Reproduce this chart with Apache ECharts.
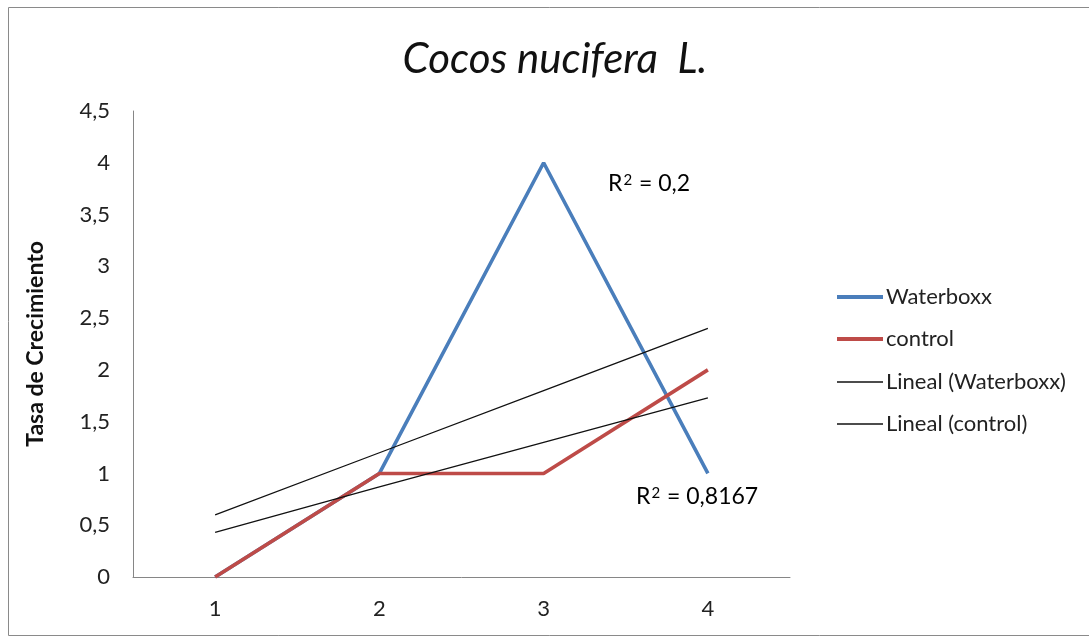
<!DOCTYPE html>
<html>
<head>
<meta charset="utf-8">
<script src="https://cdn.jsdelivr.net/npm/echarts@6/dist/echarts.min.js"></script>
<style>
  html, body { margin: 0; padding: 0; background: #fff; }
  #chart { width: 1089px; height: 637px; }
</style>
</head>
<body>
<div id="chart"></div>
<script>
// Growth rate per measurement for Cocos nucifera L.
const categories = ['1', '2', '3', '4'];
const waterboxx = [0, 1, 4, 1];
const control = [0, 1, 1, 2];
// Linear trend lines (values at each category)
const trendWaterboxx = [0.6, 1.2, 1.8, 2.4];
const trendControl = [0.43, 0.87, 1.3, 1.73];
const r2Waterboxx = '0,2';
const r2Control = '0,8167';
const yTicks = { min: 0, max: 4.5, interval: 0.5 };

const FONT = 'Lato, "Open Sans", sans-serif';
const BLUE = '#4A7EBB';
const RED = '#BE4B48';
const chart = echarts.init(document.getElementById('chart'));

// one legend block per entry so each row sits at its own height
function legendRow(name, top, thick) {
  return {
    orient: 'vertical',
    left: 832,
    top: top,
    icon: 'rect',
    itemWidth: 46,
    itemHeight: thick ? 4 : 1.4,
    textStyle: { fontFamily: FONT, fontSize: 22, color: '#222', padding: [0, 0, 0, -2] },
    data: [name]
  };
}

// "R² = value" label with a raised, smaller 2
function r2Label(x, y, value) {
  return {
    type: 'text', x: x, y: y,
    style: {
      text: '{a|R}{s|2}{a| = ' + value + '}',
      verticalAlign: 'middle',
      rich: {
        a: { fontFamily: FONT, fontSize: 23, color: '#222' },
        s: { fontFamily: FONT, fontSize: 15, color: '#222', verticalAlign: 'top', padding: [0, 1, 8, 1] }
      }
    }
  };
}

chart.setOption({
  backgroundColor: '#fff',
  animation: false,
  legend: [
    legendRow('Waterboxx', 281, true),
    legendRow('control', 323, true),
    legendRow('Lineal (Waterboxx)', 366, false),
    legendRow('Lineal (control)', 408, false)
  ],
  grid: { left: 133, top: 111, width: 657, height: 466 },
  xAxis: {
    type: 'category',
    data: categories,
    boundaryGap: true,
    axisLine: { lineStyle: { color: '#868686', width: 1 } },
    axisTick: { show: false },
    axisLabel: { fontFamily: FONT, fontSize: 22, color: '#222', margin: 21 }
  },
  yAxis: {
    type: 'value',
    min: yTicks.min,
    max: yTicks.max,
    interval: yTicks.interval,
    name: 'Tasa de Crecimiento',
    nameLocation: 'middle',
    nameGap: 86,
    nameTextStyle: { fontFamily: FONT, fontWeight: 'bold', fontSize: 23, color: '#111' },
    axisLine: { show: true, lineStyle: { color: '#868686', width: 1 } },
    axisTick: { show: false },
    splitLine: { show: false },
    axisLabel: {
      fontFamily: FONT, fontSize: 22, color: '#222', margin: 23,
      formatter: v => String(v).replace('.', ',')
    }
  },
  series: [
    {
      name: 'Waterboxx', type: 'line', data: waterboxx, symbol: 'none',
      lineStyle: { color: BLUE, width: 3.6 }, itemStyle: { color: BLUE }, z: 3
    },
    {
      name: 'control', type: 'line', data: control, symbol: 'none',
      lineStyle: { color: RED, width: 3.6 }, itemStyle: { color: RED }, z: 4
    },
    {
      name: 'Lineal (Waterboxx)', type: 'line', data: trendWaterboxx, symbol: 'none',
      lineStyle: { color: '#111', width: 1.3 }, itemStyle: { color: '#111' }, z: 5
    },
    {
      name: 'Lineal (control)', type: 'line', data: trendControl, symbol: 'none',
      lineStyle: { color: '#111', width: 1.3 }, itemStyle: { color: '#111' }, z: 5
    }
  ],
  graphic: [
    {
      type: 'rect', silent: true, z: -1,
      shape: { x: 8.5, y: 7.5, width: 1100, height: 628 },
      style: { fill: 'none', stroke: '#8a8a8a', lineWidth: 1 }
    },
    {
      type: 'text', x: 555, y: 59,
      style: {
        text: 'Cocos nucifera  L.', align: 'center', verticalAlign: 'middle',
        font: 'italic 42px ' + FONT, fill: '#111'
      }
    },
    r2Label(608, 184, r2Waterboxx),
    r2Label(636, 497, r2Control)
  ]
});
</script>
</body>
</html>
